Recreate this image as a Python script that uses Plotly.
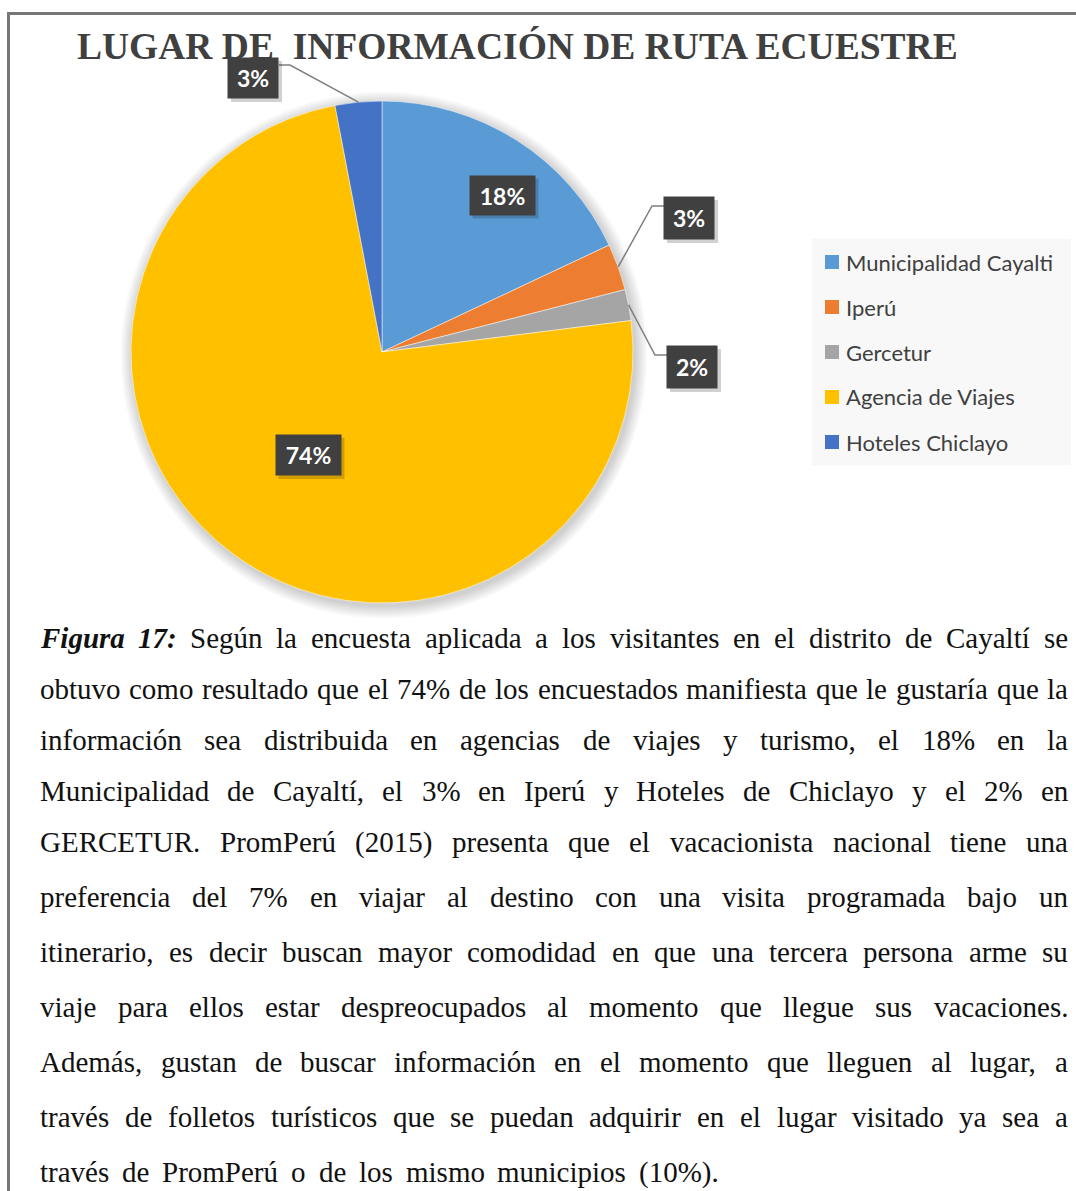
import math
import unicodedata
import plotly.graph_objects as go

# chart data
categories = ["Municipalidad Cayalti", "Iperú", "Gercetur", "Agencia de Viajes", "Hoteles Chiclayo"]
values = [18, 3, 2, 74, 3]
colors = ["#5B9BD5", "#ED7D31", "#A5A5A5", "#FFC000", "#4472C4"]

title = "LUGAR DE\u00a0 INFORMACIÓN DE RUTA ECUESTRE"

caption_lines = [
    "*Figura *17: Según la encuesta aplicada a los visitantes en el distrito de Cayaltí se",
    "obtuvo como resultado que el 74% de los encuestados manifiesta que le gustaría que la",
    "información sea distribuida en agencias de viajes y turismo, el 18% en la",
    "Municipalidad de Cayaltí, el 3% en Iperú y Hoteles de Chiclayo y el 2% en",
    "GERCETUR. PromPerú (2015) presenta que el vacacionista nacional tiene una",
    "preferencia del 7% en viajar al destino con una visita programada bajo un",
    "itinerario, es decir buscan mayor comodidad en que una tercera persona arme su",
    "viaje para ellos estar despreocupados al momento que llegue sus vacaciones.",
    "Además, gustan de buscar información en el momento que lleguen al lugar, a",
    "través de folletos turísticos que se puedan adquirir en el lugar visitado ya sea a",
    "través de PromPerú o de los mismo municipios (10%).",
]

W, H = 1076, 1191
CX, CY, R = 382, 352, 251


def px(x):
    return x / W


def py(y):
    return 1 - y / H


# Times-like advance widths (1/1000 em), used to justify the caption
TR = dict(zip("abcdefghijklmnopqrstuvwxyz",
              [444, 500, 444, 500, 444, 333, 500, 500, 278, 278, 500, 278, 778,
               500, 500, 500, 500, 333, 389, 278, 500, 500, 722, 500, 500, 444]))
TR.update(zip("ABCDEFGHIJKLMNOPQRSTUVWXYZ",
              [722, 667, 667, 722, 611, 556, 722, 722, 333, 389, 722, 611, 889,
               722, 722, 556, 722, 667, 556, 611, 722, 722, 944, 722, 722, 611]))
TR.update({d: 500 for d in "0123456789"})
TR.update({"%": 833, "(": 333, ")": 333, ",": 250, ".": 250, ":": 278})
TBI = {"F": 667, "i": 278, "g": 500, "u": 556, "r": 389, "a": 500, "1": 500, "7": 500, ":": 333}


def word_width(word, size, table):
    base = unicodedata.normalize("NFD", word)
    return sum(table.get(c, 0) for c in base if unicodedata.category(c) != "Mn") * size / 1000


fig = go.Figure(go.Pie(
    labels=categories, values=values, sort=False, direction="clockwise", rotation=0,
    marker=dict(colors=colors, line=dict(color="white", width=0.5)),
    textinfo="none", hoverinfo="label+percent", showlegend=False,
    domain=dict(x=[px(CX - R), px(CX + R)], y=[py(CY + R), py(CY - R)]),
))

shapes = []
annotations = []

# frame
shapes.append(dict(type="line", xref="paper", yref="paper", x0=px(8), x1=px(1076), y0=py(13.5), y1=py(13.5),
                   line=dict(color="#777777", width=3)))
shapes.append(dict(type="line", xref="paper", yref="paper", x0=px(8.5), x1=px(8.5), y0=py(12), y1=py(1191),
                   line=dict(color="#777777", width=3)))

# soft shadow under the pie
for i in range(8):
    rr = R + 1 + i * 1.6
    shapes.append(dict(type="circle", xref="paper", yref="paper", layer="below",
                       x0=px(CX + 2 - rr), x1=px(CX + 2 + rr), y0=py(CY + 3 + rr), y1=py(CY + 3 - rr),
                       fillcolor="rgba(0,0,0,0.025)", line=dict(width=0)))

annotations.append(dict(text="<b>" + title + "</b>", x=px(517), y=py(47), xref="paper", yref="paper",
                        showarrow=False, xanchor="center", yanchor="middle",
                        font=dict(family="Liberation Serif", size=37.5, color="#404040")))

# data labels: box centre, width, height, elbow of leader line
label_boxes = [
    (502, 195, 65, 39, None),
    (689, 218, 50, 42, [(652, 206), (664, 206)]),
    (692, 367, 50, 42, [(655, 355), (667, 355)]),
    (308, 455, 65, 40, None),
    (253, 78, 50, 40, [(290, 65), (279, 65)]),
]
total = sum(values)
cum = 0
for v, (bx, by, bw, bh, elbow) in zip(values, label_boxes):
    mid = math.radians((cum + v / 2) / total * 360)
    cum += v
    if elbow:
        ex, ey = CX + R * math.sin(mid), CY - R * math.cos(mid)
        pts = [(ex, ey)] + elbow
        path = "M " + " L ".join(f"{px(a)},{py(b)}" for a, b in pts)
        shapes.append(dict(type="path", xref="paper", yref="paper", path=path, layer="above",
                           line=dict(color="#7F7F7F", width=1.5)))
    shapes.append(dict(type="rect", xref="paper", yref="paper", layer="above",
                       x0=px(bx - bw / 2 + 3), x1=px(bx + bw / 2 + 4), y0=py(by + bh / 2 + 4), y1=py(by - bh / 2 + 3),
                       fillcolor="rgba(0,0,0,0.18)", line=dict(width=0)))
    annotations.append(dict(text=f"<b>{v / total:.0%}</b>", x=px(bx), y=py(by), xref="paper", yref="paper",
                            showarrow=False, xanchor="center", yanchor="middle", width=bw, height=bh,
                            bgcolor="#404040", borderpad=0,
                            font=dict(family="Lato", size=23, color="white")))

# legend
shapes.append(dict(type="rect", xref="paper", yref="paper", layer="below",
                   x0=px(812), x1=px(1071), y0=py(465), y1=py(239), fillcolor="#F8F8F8", line=dict(width=0)))
for i, (cat, col) in enumerate(zip(categories, colors)):
    yc = 262 + 45 * i
    shapes.append(dict(type="rect", xref="paper", yref="paper", x0=px(825), x1=px(839), y0=py(yc + 7), y1=py(yc - 7),
                       fillcolor=col, line=dict(width=0)))
    annotations.append(dict(text=cat, x=px(844), y=py(yc), xref="paper", yref="paper", showarrow=False,
                            xanchor="left", yanchor="middle",
                            font=dict(family="Lato", size=22, color="#404040")))

# justified caption (last line left-aligned)
FS = 29
LEFT, RIGHT, LAST_RIGHT = 39, 1067, 718
line_ys = [638, 689, 740, 791, 842, 897, 952, 1007, 1062, 1117, 1172]
for li, (line, ly) in enumerate(zip(caption_lines, line_ys)):
    items = []
    for w in line.split(" "):
        if w.startswith("*") or (li == 0 and w == "17:"):
            w = w.lstrip("*")
            items.append(("<b><i>" + w + "</i></b>", word_width(w, FS, TBI)))
        else:
            items.append((w, word_width(w, FS, TR)))
    right = RIGHT if li < len(caption_lines) - 1 else LAST_RIGHT
    gap = (right - LEFT - sum(wd for _, wd in items)) / (len(items) - 1)
    x = LEFT
    for t, wd in items:
        annotations.append(dict(text=t, x=px(x), y=py(ly), xref="paper", yref="paper", showarrow=False,
                                xanchor="left", yanchor="middle", borderpad=0,
                                font=dict(family="Liberation Serif", size=FS, color="#111111")))
        x += wd + gap

fig.update_layout(width=W, height=H, margin=dict(l=0, r=0, t=0, b=0),
                  paper_bgcolor="white", plot_bgcolor="white",
                  shapes=shapes, annotations=annotations)

# drop the default 8px page margin so the figure fills the window exactly
fig.write_html("out.html", config={"displayModeBar": False},
               post_script="document.body.style.margin='0';document.body.style.overflow='hidden';")
